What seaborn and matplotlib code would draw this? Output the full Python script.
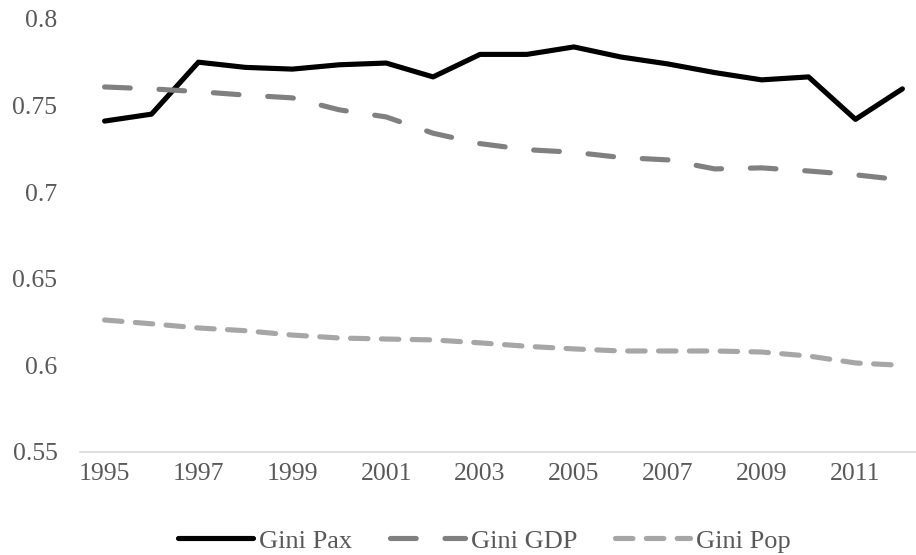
import matplotlib
matplotlib.use("Agg")
import matplotlib.pyplot as plt
import seaborn as sns
import pandas as pd

years = list(range(1995, 2013))
gini_pax = [0.741, 0.745, 0.775, 0.772, 0.771, 0.7735, 0.7745, 0.7665, 0.7795, 0.7795,
            0.7838, 0.778, 0.774, 0.769, 0.7648, 0.7665, 0.742, 0.7596]
gini_gdp = [0.7607, 0.7596, 0.758, 0.756, 0.7544, 0.7475, 0.7434, 0.734, 0.728, 0.7245,
            0.723, 0.720, 0.7186, 0.7134, 0.714, 0.7122, 0.710, 0.707]
gini_pop = [0.6262, 0.624, 0.6216, 0.620, 0.6175, 0.6158, 0.6152, 0.6147, 0.613, 0.611,
            0.6095, 0.6083, 0.6083, 0.6083, 0.6077, 0.6054, 0.6014, 0.600]
y_ticks = [0.55, 0.6, 0.65, 0.7, 0.75, 0.8]
y_labels = ["0.55", "0.6", "0.65", "0.7", "0.75", "0.8"]
x_ticks = [1995, 1997, 1999, 2001, 2003, 2005, 2007, 2009, 2011]

df = pd.DataFrame({"Year": years, "Gini Pax": gini_pax,
                   "Gini GDP": gini_gdp, "Gini Pop": gini_pop})

sns.set_style("white")
plt.rcParams["font.family"] = ["Liberation Serif", "DejaVu Serif"]

fig = plt.figure(figsize=(9.16, 5.55), dpi=100)
ax = fig.add_axes([0.087, 0.1856, 0.913, 0.7804])

sns.lineplot(data=df, x="Year", y="Gini Pax", color="black", lw=3.7,
             label="Gini Pax", ax=ax)
sns.lineplot(data=df, x="Year", y="Gini GDP", color="#808080", lw=3.7,
             linestyle=(0, (5.0, 5.6)), dash_capstyle="round",
             label="Gini GDP", ax=ax)
sns.lineplot(data=df, x="Year", y="Gini Pop", color="#a6a6a6", lw=3.7,
             linestyle=(0, (3.4, 2.6)), dash_capstyle="round",
             label="Gini Pop", ax=ax)

ax.set_xlim(1994.47, 2012.29)
ax.set_ylim(0.55, 0.8)
ax.set_yticks(y_ticks)
ax.set_yticklabels(y_labels)
ax.set_xticks(x_ticks)
ax.set_xticklabels([str(t) for t in x_ticks])
ax.tick_params(axis="both", length=0, labelsize=18.5, labelcolor="#595959")
ax.tick_params(axis="y", pad=16)
ax.tick_params(axis="x", pad=8)
ax.set_xlabel("")
ax.set_ylabel("")

for s in ["top", "right", "left"]:
    ax.spines[s].set_visible(False)
ax.spines["bottom"].set_color("#d9d9d9")
ax.spines["bottom"].set_linewidth(1.2)

leg = ax.legend(loc="center", bbox_to_anchor=(0.484, -0.205), ncol=3,
                frameon=False, fontsize=19, handlelength=2.85,
                handletextpad=0.25, columnspacing=1.4)
for t in leg.get_texts():
    t.set_color("#595959")

fig.savefig("out.png", dpi=100)
